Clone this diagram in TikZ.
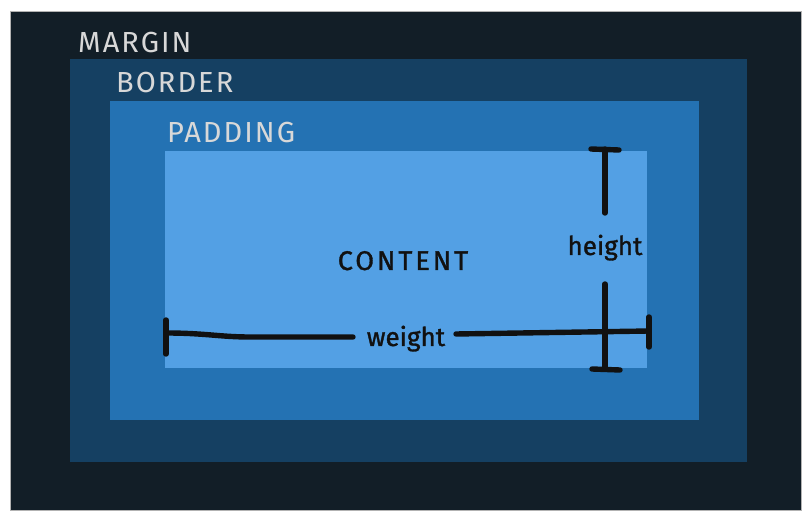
\documentclass[tikz,border=0pt]{standalone}
\usepackage{fontspec}
\setmainfont{Fira Sans}
\begin{document}
\begin{tikzpicture}[x=1pt,y=-1pt,
  box/.style={draw=none,inner sep=0pt,outer sep=0pt,anchor=north west},
  lbl/.style={inner sep=0pt,anchor=base west,text=labelgray,font=\fontsize{29}{30}\selectfont\addfontfeature{LetterSpace=7}},
  dim/.style={line width=5.4pt,line cap=round,line join=round,draw=inkblack},
  dimtext/.style={inner sep=0pt,anchor=base,text=inkblack,font=\fontsize{26}{27}\selectfont\addfontfeature{FakeBold=1.2}}]
\definecolor{marginc}{HTML}{121E27}
\definecolor{borderc}{HTML}{154062}
\definecolor{paddingc}{HTML}{2472B3}
\definecolor{contentc}{HTML}{53A0E4}
\definecolor{labelgray}{HTML}{D8D8D8}
\definecolor{inkblack}{HTML}{111111}
\useasboundingbox[fill=white] (0,0) rectangle (812,521);
\node[box,fill=marginc,draw=gray!60,line width=0.8pt,minimum width=791pt,minimum height=499pt] (margin) at (10,11) {};
\node[box,fill=borderc,minimum width=677pt,minimum height=403pt] (border) at (70,59) {};
\node[box,fill=paddingc,minimum width=589pt,minimum height=319pt] (padding) at (110,101) {};
\node[box,fill=contentc,minimum width=482pt,minimum height=217pt] (content) at (165,151) {};
\node[lbl] (lmargin) at (78,53) {MARGIN};
\node[lbl] (lborder) at (116,93) {BORDER};
\node[lbl] (lpadding) at (167,143) {PADDING};
\node[inner sep=0pt,anchor=base,text=inkblack,font=\fontsize{27}{28}\selectfont\addfontfeature{LetterSpace=11,FakeBold=1.2}] (lcontent) at (403,270) {CONTENT};
% height dimension
\node[dimtext] (hlabel) at (605,255) {height};
\coordinate (htop) at (605,149);
\coordinate (htopend) at (605,213);
\coordinate (hbotstart) at (605,284);
\coordinate (hbot) at (605,369);
\coordinate (htl) at (591,149);
\coordinate (htr) at (619,150);
\coordinate (hbl) at (592,369);
\coordinate (hbr) at (620,370);
\draw[dim] (htop) -- (htopend);
\draw[dim] (hbotstart) -- (hbot);
\draw[dim] (htl) -- (htr);
\draw[dim] (hbl) -- (hbr);
% width dimension
\node[dimtext] (wlabel) at (406,346) {weight};
\coordinate (wl) at (166,333);
\coordinate (wlc1) at (205,333);
\coordinate (wlc2) at (220,337);
\coordinate (wlmid) at (250,337);
\coordinate (wlend) at (353,337);
\coordinate (wrstart) at (456,334);
\coordinate (wr) at (649,331);
\coordinate (wlt) at (166,320);
\coordinate (wlb) at (166,354);
\coordinate (wrt) at (649,317);
\coordinate (wrb) at (649,347);
\draw[dim] (wl) .. controls (wlc1) and (wlc2) .. (wlmid) -- (wlend);
\draw[dim] (wrstart) -- (wr);
\draw[dim] (wlt) -- (wlb);
\draw[dim] (wrt) -- (wrb);
\end{tikzpicture}
\end{document}
